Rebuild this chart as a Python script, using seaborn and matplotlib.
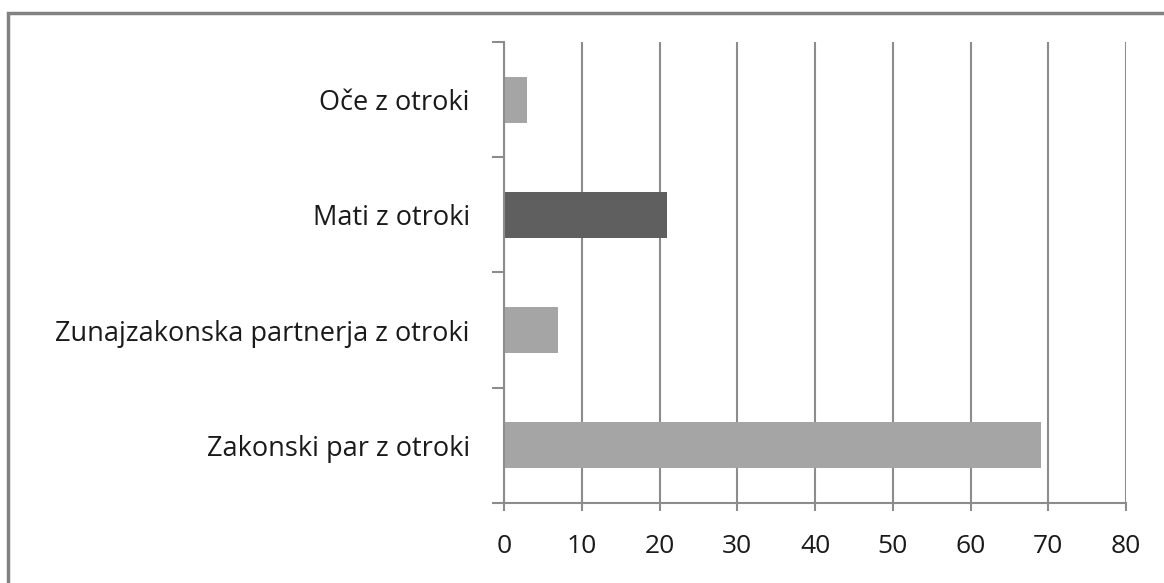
import numpy as np
import pandas as pd
import matplotlib
matplotlib.use("Agg")
import matplotlib.pyplot as plt
import seaborn as sns
from matplotlib.patches import Rectangle

# data (top to bottom)
categories = ["Oče z otroki", "Mati z otroki", "Zunajzakonska partnerja z otroki", "Zakonski par z otroki"]
values = [3, 21, 7, 69]
bar_colors = ["#a5a5a5", "#5f5f5f", "#a5a5a5", "#a5a5a5"]
xticks = [0, 10, 20, 30, 40, 50, 60, 70, 80]

sns.set_theme(style="white")
plt.rcParams['font.family'] = ['Open Sans', 'DejaVu Sans']

df = pd.DataFrame({"kat": categories, "val": values})

fig = plt.figure(figsize=(11.64, 5.83), dpi=100)
ax = fig.add_axes([0.433, 0.1372, 0.9674 - 0.433, 0.928 - 0.1372])

sns.barplot(data=df, x="val", y="kat", hue="kat", palette=bar_colors,
            width=0.4, legend=False, ax=ax, saturation=1, linewidth=0)

grid_c = "#8c8c8c"
ax.set_xlim(0, 80)
ax.set_ylim(3.5, -0.5)
ax.set_xticks(xticks)
ax.set_xticklabels([str(t) for t in xticks])
ax.xaxis.grid(True, color=grid_c, linewidth=1.5)
ax.set_axisbelow(True)

# y: labels at centers, tick marks at boundaries
ax.set_yticks(np.arange(len(categories)))
ax.set_yticklabels(categories)
ax.set_yticks(np.arange(len(categories) + 1) - 0.5, minor=True)
ax.tick_params(axis="y", which="both", left=True)
ax.tick_params(axis="y", which="major", length=0, pad=24.5, labelsize=19.5, labelcolor="#1a1a1a")
ax.tick_params(axis="y", which="minor", length=9, width=1.5, color=grid_c, direction="out")
ax.tick_params(axis="x", bottom=True, length=6, width=1.5, color=grid_c, direction="out", pad=16,
               labelsize=19, labelcolor="#1a1a1a")
ax.set_xlabel("")
ax.set_ylabel("")

for s in ["top", "right"]:
    ax.spines[s].set_visible(False)
for s in ["left", "bottom"]:
    ax.spines[s].set_color(grid_c)
    ax.spines[s].set_linewidth(1.5)

# outer frame (only top/left visible in the crop)
fig.patches.append(Rectangle((8 / 1164, -0.1), 1.2, 1 - 13 / 583 + 0.1, transform=fig.transFigure,
                             fill=False, edgecolor="#828282", linewidth=2.5, zorder=0))

fig.savefig("out.png", dpi=100)
